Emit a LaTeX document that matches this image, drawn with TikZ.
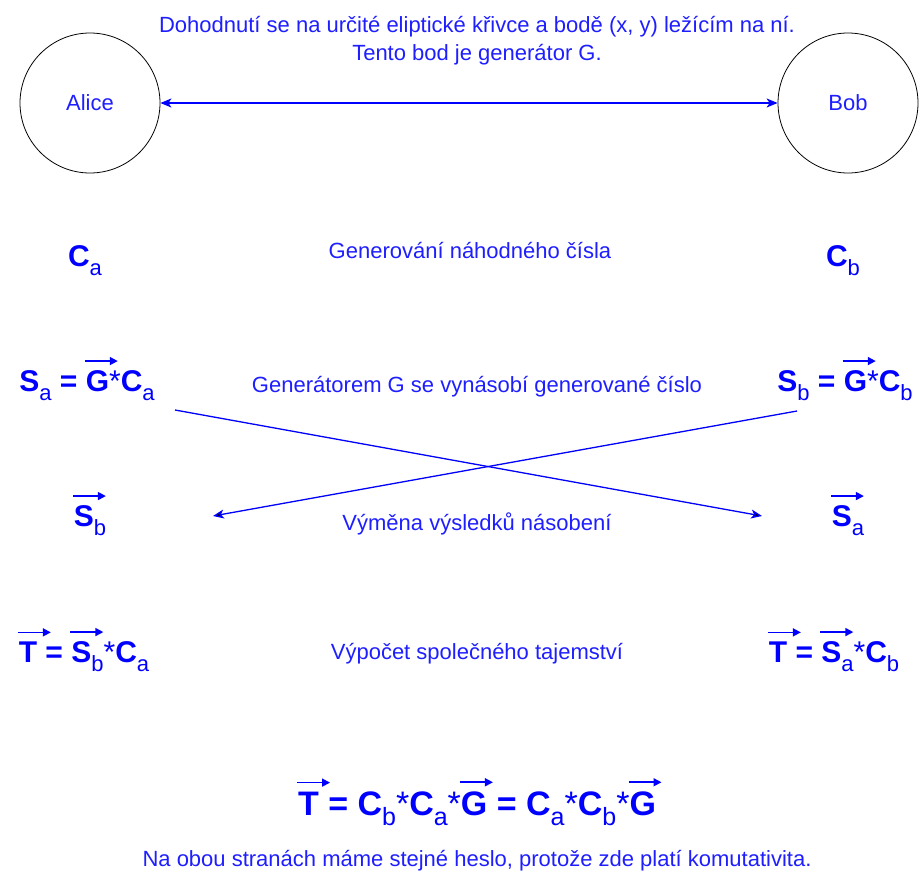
\documentclass[tikz,border=0pt]{standalone}
\usepackage{fontspec}
\setmainfont{Liberation Sans}
\usetikzlibrary{arrows.meta}
\definecolor{dblue}{RGB}{0,0,255}
\definecolor{tblue}{RGB}{30,30,255}
\newcommand\sbs[1]{\raisebox{-0.3em}{\fontsize{22}{22}\selectfont\mdseries #1}}
\newcommand\sbb[1]{\raisebox{-0.3em}{\fontsize{25}{25}\selectfont\mdseries #1}}
\newcommand\st{{\mdseries*}}
\newcommand\vx[1]{\tikz[baseline=(vxn.base)]{\node[inner sep=0pt,outer sep=0pt,text=dblue,anchor=base](vxn){#1};\draw[overlay,dblue,line width=1.6pt,-{Triangle[length=8pt,width=8pt]}]([xshift=-1pt,yshift=9pt]vxn.north west) -- ++(33pt,0);}}
\tikzset{
  party/.style={circle,draw=black,line width=0.8pt,minimum size=140pt,inner sep=0pt,text=tblue,font=\fontsize{22}{26}\selectfont},
  info/.style={anchor=base,text=tblue,font=\fontsize{22}{28}\selectfont,align=center,inner sep=0pt},
  frm/.style={anchor=base,text=dblue,font=\fontsize{30}{34}\selectfont\bfseries,inner sep=0pt},
  frmbig/.style={anchor=base,text=dblue,font=\fontsize{34}{38}\selectfont\bfseries,inner sep=0pt},
  link/.style={draw=dblue,line width=1.3pt,-{Stealth[length=11pt,width=9pt,inset=3pt]}},
}
\begin{document}
\begin{tikzpicture}[x=1pt,y=-1pt]
\useasboundingbox (0,0) rectangle (920,870);
\node[party] (alice) at (90,103) {Alice};
\node[party] (bob) at (848,103) {Bob};
\node[info] (agree) at (477,32) {Dohodnutí se na určité eliptické křivce a bodě (x, y) ležícím na ní.};
\node[info] (agree2) at (477,60) {Tento bod je generátor G.};
\draw[link,{Stealth[length=11pt,width=9pt,inset=3pt]}-{Stealth[length=11pt,width=9pt,inset=3pt]}] (alice.east) -- (bob.west);

\node[frm] (ca) at (85,266) {C\sbs{a}};
\node[info] (gen) at (470,258) {Generování náhodného čísla};
\node[frm] (cb) at (843,266) {C\sbs{b}};

\node[frm] (sa) at (87,391) {S\sbs{a} = \vx{G}\st C\sbs{a}};
\node[info] (mul) at (477,392) {Generátorem G se vynásobí generované číslo};
\node[frm] (sb) at (845,391) {S\sbs{b} = \vx{G}\st C\sbs{b}};

\node[frm] (sbl) at (90,526) {\vx{S\sbs{b}}};
\node[info] (swap) at (477,530) {Výměna výsledků násobení};
\node[frm] (sar) at (848,526) {\vx{S\sbs{a}}};

\coordinate (sa-out) at (175,410);
\coordinate (sar-in) at (762,516);
\coordinate (sb-out) at (797,411);
\coordinate (sbl-in) at (213,516);
\draw[link] (sa-out) -- (sar-in);
\draw[link] (sb-out) -- (sbl-in);

\node[frm] (tl) at (84,662) {\vx{T} = \vx{S\sbs{b}}\st C\sbs{a}};
\node[info] (sec) at (477,659) {Výpočet společného tajemství};
\node[frm] (tr) at (834,662) {\vx{T} = \vx{S\sbs{a}}\st C\sbs{b}};

\node[frmbig] (tt) at (477,815) {\vx{T} = C\sbb{b}\st C\sbb{a}\st\vx{G} = C\sbb{a}\st C\sbb{b}\st\vx{G}};
\node[info] (comm) at (477,866) {Na obou stranách máme stejné heslo, protože zde platí komutativita.};
\end{tikzpicture}
\end{document}
